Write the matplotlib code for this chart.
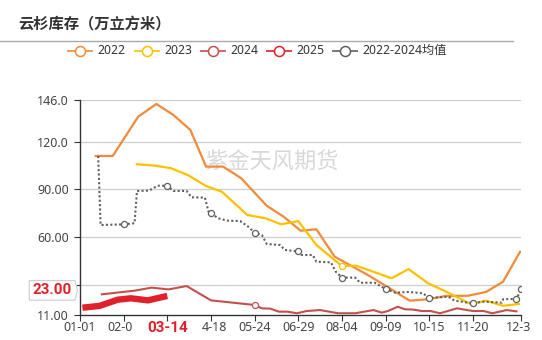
import numpy as np
import matplotlib
matplotlib.use("Agg")
import matplotlib.pyplot as plt
from matplotlib.lines import Line2D
from matplotlib.patches import Polygon

plt.rcParams['font.family'] = ['Noto Sans', 'Noto Sans CJK SC', 'DejaVu Sans']

# ---- data: x = days since 01-01, y = inventory (10k m³) ----
days_2022 = [13, 27, 48, 63, 77, 91, 104, 118, 133, 154, 168, 182, 195, 210,
             225, 240, 256, 272, 287, 302, 320, 335, 349, 363]
vals_2022 = [111.0, 111.0, 135.7, 143.7, 136.8, 127.4, 104.3, 104.3, 97.0, 79.7,
             72.8, 64.0, 64.9, 47.7, 41.4, 35.0, 27.5, 20.0, 20.9, 23.0, 23.1,
             25.5, 32.0, 50.8]

days_2023 = [47, 62, 75, 89, 104, 117, 138, 153, 166, 180, 195, 216, 228, 257,
             271, 287, 302, 322, 335, 349, 362]
vals_2023 = [105.8, 104.9, 103.3, 99.0, 92.1, 88.5, 73.9, 71.8, 68.0, 70.1, 55.0,
             41.8, 42.0, 34.1, 39.9, 31.0, 25.7, 17.9, 20.0, 16.8, 17.9]

days_2024 = [18, 45, 59, 73, 88, 108, 144, 150, 157, 164, 171, 179, 187, 198,
             213, 227, 242, 249, 254, 262, 268, 275, 282, 289, 297, 311, 324,
             333, 340, 352, 360]
vals_2024 = [24.0, 26.3, 28.2, 27.1, 29.2, 20.2, 17.3, 15.2, 15.0, 13.1, 13.1,
             12.1, 13.5, 14.1, 12.1, 12.1, 14.1, 12.5, 13.5, 16.2, 14.6, 14.4,
             13.5, 13.5, 12.1, 15.2, 13.5, 13.5, 12.1, 14.1, 13.3]

days_2025 = [2, 16, 31, 42, 56, 72]
vals_2025 = [15.6, 16.7, 20.6, 21.5, 20.2, 23.0]

days_avg = [15, 17, 36, 45, 47, 57, 64, 72, 77, 88, 92, 103, 106, 108, 114, 122,
            132, 138, 144, 150, 154, 165, 169, 180, 183, 192, 195, 207, 211, 216,
            227, 231, 243, 252, 260, 271, 283, 288, 304, 309, 324, 333, 348, 349,
            360, 364]
vals_avg = [111.0, 67.6, 68.0, 68.7, 89.0, 89.2, 92.3, 92.3, 89.0, 89.0, 85.0,
            84.8, 76.0, 75.0, 71.8, 70.3, 70.1, 67.0, 62.8, 61.3, 55.7, 55.0,
            51.9, 51.0, 48.7, 48.7, 44.5, 44.1, 38.2, 34.5, 34.5, 31.3, 31.3,
            27.4, 25.0, 25.5, 24.6, 21.7, 22.5, 20.0, 18.4, 19.4, 18.8, 20.9,
            21.1, 27.4]

tick_days = [0, 36, 72, 108, 144, 180, 216, 252, 288, 324, 364]
tick_labels = ["01-01", "02-0", "03-14", "4-18", "05-24", "06-29", "08-04",
               "09-09", "10-15", "11-20", "12-3"]
y_ticks = [11, 30, 60, 90, 120, 146]
y_tick_labels = ["11.00", "30.00", "60.00", "90.00", "120.0", "146.0"]

series_names = ["2022", "2023", "2024", "2025", "2022-2024均值"]
colors = {"2022": "#F28A3A", "2023": "#FFC000", "2024": "#C4504E",
          "2025": "#E0202A", "2022-2024均值": "#606060"}
last_value = vals_2025[-1]

W, H = 542, 340
fig = plt.figure(figsize=(W / 100, H / 100), dpi=100)
fx = lambda px: px / W
fy = lambda py: 1 - py / H

ax = fig.add_axes([fx(80), fy(315), fx(521.3) - fx(80), fy(100.3) - fy(315)])
ax.set_xlim(0, 364)
ax.set_ylim(11, 146)

for yv in y_ticks[1:]:
    ax.axhline(yv, color="#cfcfcf", lw=0.9, zorder=0)

ax.plot(days_2022, vals_2022, color=colors["2022"], lw=1.6, zorder=3)
ax.plot(days_2023, vals_2023, color=colors["2023"], lw=1.6, zorder=3)
ax.plot(days_2024, vals_2024, color=colors["2024"], lw=1.5, zorder=3)
ax.plot(days_2025, vals_2025, color=colors["2025"], lw=4.6, zorder=5,
        solid_capstyle="butt")
ax.plot(days_avg, vals_avg, color=colors["2022-2024均值"], lw=1.5,
        linestyle=(0, (1, 1.1)), zorder=4)

# symbols at labelled dates
avg_mark_days = [36, 72, 108, 144, 180, 216, 252, 288, 324, 360, 364]
ax.plot(avg_mark_days, np.interp(avg_mark_days, days_avg, vals_avg), ls="none",
        marker="o", ms=4.4, mfc="white", mec=colors["2022-2024均值"], mew=0.9, zorder=6)
ax.plot([216], np.interp([216], days_2023, vals_2023), ls="none", marker="o",
        ms=4.4, mfc="white", mec=colors["2023"], mew=0.9, zorder=6)
ax.plot([144], np.interp([144], days_2024, vals_2024), ls="none", marker="o",
        ms=4.4, mfc="white", mec=colors["2024"], mew=0.9, zorder=6)

for s in ["top", "right"]:
    ax.spines[s].set_visible(False)
for s in ["left", "bottom"]:
    ax.spines[s].set_color("#333333")
    ax.spines[s].set_linewidth(1.0)

ax.set_yticks(y_ticks)
ax.set_yticklabels(y_tick_labels, fontsize=9, color="#444444")
ax.tick_params(axis="y", length=4, pad=4, color="#333333")
ax.set_xticks(tick_days)
ax.set_xticklabels([""] * len(tick_days))
ax.tick_params(axis="x", length=4, color="#333333")

xt = ax.get_xaxis_transform()
label_y = -0.056
for d, lab in zip(tick_days, tick_labels):
    if lab == "03-14":
        ax.text(d, label_y - 0.004, lab, transform=xt, ha="center", va="center",
                fontsize=11, fontweight="bold", color=colors["2025"],
                family=["Roboto", "DejaVu Sans"])
    elif lab == "02-0":
        ax.text(22.5, label_y, lab, transform=xt, ha="left", va="center",
                fontsize=9, color="#444444")
    elif lab == "4-18":
        ax.text(121, label_y, lab, transform=xt, ha="right", va="center",
                fontsize=9, color="#444444")
    elif lab == "12-3":
        ax.text(351.4, label_y, lab, transform=xt, ha="left", va="center",
                fontsize=9, color="#444444", clip_on=False)
    else:
        ax.text(d, label_y, lab, transform=xt, ha="center", va="center",
                fontsize=9, color="#444444")

# watermark
ax.text(fx(272), fy(162), "紫金天风期货", transform=fig.transFigure,
        ha="center", va="center", fontsize=16, color="#d8d8d8",
        family=["Noto Sans CJK SC"], zorder=1)

# title and separator
fig.text(fx(18), fy(24), "云杉库存（万立方米）", ha="left", va="center",
         fontsize=11, fontweight="bold", color="#333333",
         family=["Noto Sans CJK SC"])
fig.add_artist(Line2D([fx(0), fx(513)], [fy(40.5), fy(40.5)], color="#aaaaaa",
                      lw=1.0, transform=fig.transFigure))

# legend
legend_x = [68, 135, 201, 267, 333]
leg_y = 50.7
for x0, name in zip(legend_x, series_names):
    c = colors[name]
    fig.add_artist(Line2D([fx(x0), fx(x0 + 24)], [fy(leg_y), fy(leg_y)], color=c,
                          lw=1.4, alpha=0.85, transform=fig.transFigure))
    fig.add_artist(Line2D([fx(x0 + 12)], [fy(leg_y)], marker="o", ms=7.2,
                          mfc="white", mec=c, mew=1.1, ls="none",
                          transform=fig.transFigure))
    fig.text(fx(x0 + 29.5), fy(leg_y), name, ha="left", va="center",
             fontsize=8.8, color="#333333")

# current value tag on the y axis
y_tag = ax.transData.transform((0, last_value + 3.5))[1]
cy = H - y_tag
tag = Polygon([(fx(29.3), fy(cy - 9.8)), (fx(75), fy(cy - 9.8)), (fx(77.5), fy(cy)),
               (fx(75), fy(cy + 9.8)), (fx(29.3), fy(cy + 9.8))], closed=True,
              facecolor="white", edgecolor="#d0d0d0", lw=0.9,
              transform=fig.transFigure, zorder=10)
fig.add_artist(tag)
fig.text(fx(52.5), fy(cy), f"{last_value:.2f}", ha="center", va="center",
         fontsize=11, fontweight="bold", color=colors["2025"], zorder=11,
         family=["Roboto", "DejaVu Sans"])

fig.savefig("out.png", dpi=100)
